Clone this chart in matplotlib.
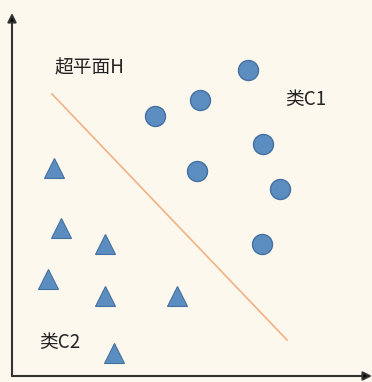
import matplotlib
matplotlib.use("Agg")
import matplotlib.pyplot as plt

plt.rcParams['font.family'] = ['Noto Sans CJK SC', 'DejaVu Sans']

# Data (arbitrary units, origin at the axes corner)
c1_x = [23.6, 18.8, 14.3, 25.1, 18.5, 26.8, 25.0]
c1_y = [30.6, 27.6, 26.0, 23.2, 20.5, 18.7, 13.2]
c2_x = [4.2, 4.9, 9.3, 3.6, 9.3, 16.5, 10.2]
c2_y = [20.8, 14.8, 13.2, 9.7, 8.0, 8.0, 2.3]
h_x = [4.0, 27.5]
h_y = [28.2, 3.6]
labels = {"hyper": "超平面H", "c1": "类C1", "c2": "类C2"}

bg = '#FCF8EE'
fig = plt.figure(figsize=(3.72, 3.82), dpi=100, facecolor=bg)
ax = fig.add_axes([0, 0, 1, 1])
ax.set_facecolor(bg)
ax.set_xlim(-1.2, 36.0)
ax.set_ylim(-0.6, 37.6)
ax.axis('off')

# axes with arrows
ax.annotate('', xy=(0, 36.3), xytext=(0, 0),
            arrowprops=dict(arrowstyle='-|>', color='#6E6A62', lw=1.5,
                            mutation_scale=13, shrinkA=0, shrinkB=0,
                            fc='black', ec='#333333'))
ax.annotate('', xy=(36.0, 0), xytext=(0, 0),
            arrowprops=dict(arrowstyle='-|>', color='#6E6A62', lw=1.5,
                            mutation_scale=13, shrinkA=0, shrinkB=0,
                            fc='black', ec='#333333'))

ax.plot(h_x, h_y, color='#F4B183', lw=1.2)

ax.plot(c1_x, c1_y, 'o', ms=14.4, mfc='#5B8DC1', mec='#44719F', mew=1.0, ls='none')
ax.plot(c2_x, c2_y, '^', ms=15, mfc='#5B8DC1', mec='#44719F', mew=0.8, ls='none')

ax.text(4.3, 30.8, labels["hyper"], fontsize=13.5, color='#222222', va='center', ha='left')
ax.text(27.3, 27.7, labels["c1"], fontsize=13.5, color='#222222', va='center', ha='left')
ax.text(2.7, 3.4, labels["c2"], fontsize=13.5, color='#222222', va='center', ha='left')

fig.savefig('out.png', dpi=100, facecolor=bg)
